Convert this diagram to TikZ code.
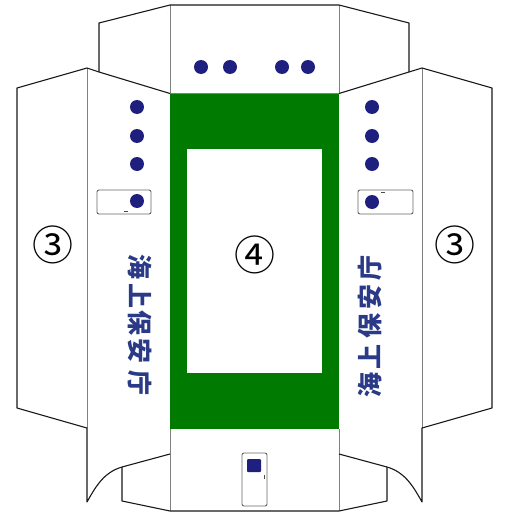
\documentclass[tikz,border=0pt]{standalone}
\usepackage{fontspec}
\setmainfont{Liberation Sans}
\newfontfamily\cjk{Noto Sans CJK JP}
\definecolor{dotblue}{HTML}{1F1F80}
\definecolor{txtblue}{HTML}{2A3A86}
\definecolor{hullgreen}{HTML}{007A00}
\tikzset{x=1pt,y=-1pt,
 outline/.style={draw=black!90,line width=1.1pt,line join=round},
 fold/.style={draw=black!50,line width=0.8pt},
 lamp/.style={circle,fill=dotblue,draw=none,minimum size=14pt,inner sep=0pt},
 badge/.style={draw=black!60,line width=0.9pt,rounded corners=2pt,fill=white},
 num/.style={font=\cjk\fontsize{41}{41}\selectfont,inner sep=0pt},
 brand/.style={font=\cjk\bfseries\fontsize{25}{25}\selectfont,text=txtblue,inner sep=0pt},
 speck/.style={fill=black!70,draw=none}}
\begin{document}
\begin{tikzpicture}
\useasboundingbox (0,0) rectangle (505,514);
\fill[white] (0,0) rectangle (505,514);
% green deck
\fill[hullgreen] (170,93.5) rectangle (339,429);
\fill[white] (187,149) rectangle (322,373);
% folds
\draw[fold] (170,5) -- (170,93.5);
\draw[fold] (339,5) -- (339,93.5);
\draw[fold] (170,93.5) -- (339,93.5);
\draw[fold] (87,68) -- (87,428);
\draw[fold] (422,68) -- (422,428);
\draw[fold] (170,429) -- (170,511);
\draw[fold] (339,429) -- (339,511);
% top flap
\draw[outline] (87,68) -- (99,72) -- (170,93.5);
\draw[outline] (99,72) -- (99,23) -- (170,5) -- (339,5) -- (409,23) -- (409,72);
\draw[outline] (339,93.5) -- (422,68);
% sides
\draw[outline] (87,68) -- (17,88) -- (17,408) -- (87,428) -- (87,502)
  .. controls (97,484) and (105,472) .. (122,467) -- (170,454);
\draw[outline] (422,68) -- (492,88) -- (492,408) -- (422,428) -- (422,502)
  .. controls (412,484) and (404,472) .. (387,467) -- (339,454);
% bottom flap
\draw[outline] (122,467) -- (122,501) -- (170,511) -- (339,511) -- (387,501) -- (387,467);
% lamps
\foreach \n/\x/\y in {t1/201/67,t2/230/67,t3/282/67,t4/308/67,
  l1/137/107,l2/137/136,l3/137/164,r1/372/107,r2/372/136,r3/372/164}
  \node[lamp] (\n) at (\x,\y) {};
% badges
\draw[badge] (97,190) rectangle (151,214);
\node[lamp] (l4) at (137,201) {};
\fill[speck] (124,210.5) rectangle (128,212);
\draw[badge] (358,190) rectangle (413,214);
\node[lamp] (r4) at (372,202) {};
\fill[speck] (381,191.5) rectangle (385,193);
\draw[badge] (242,453) rectangle (267,506);
\fill[dotblue,rounded corners=1pt] (247,459) rectangle (261,472);
\fill[speck] (263.5,475) rectangle (264.5,479);
% numbers
\node[num] (n3l) at (53,245) {③};
\node[num] (n4) at (255,255) {④};
\node[num] (n3r) at (455,245) {③};
% text
\foreach \i/\ch/\yl/\yr in {a/海/267/385,b/上/296/357,c/保/323/326,d/安/351/297,e/庁/383/268}{
  \node[brand,rotate=-90] (l\i) at (140,\yl) {\ch};
  \node[brand,rotate=90] (r\i) at (370,\yr) {\ch};
}
\end{tikzpicture}
\end{document}
